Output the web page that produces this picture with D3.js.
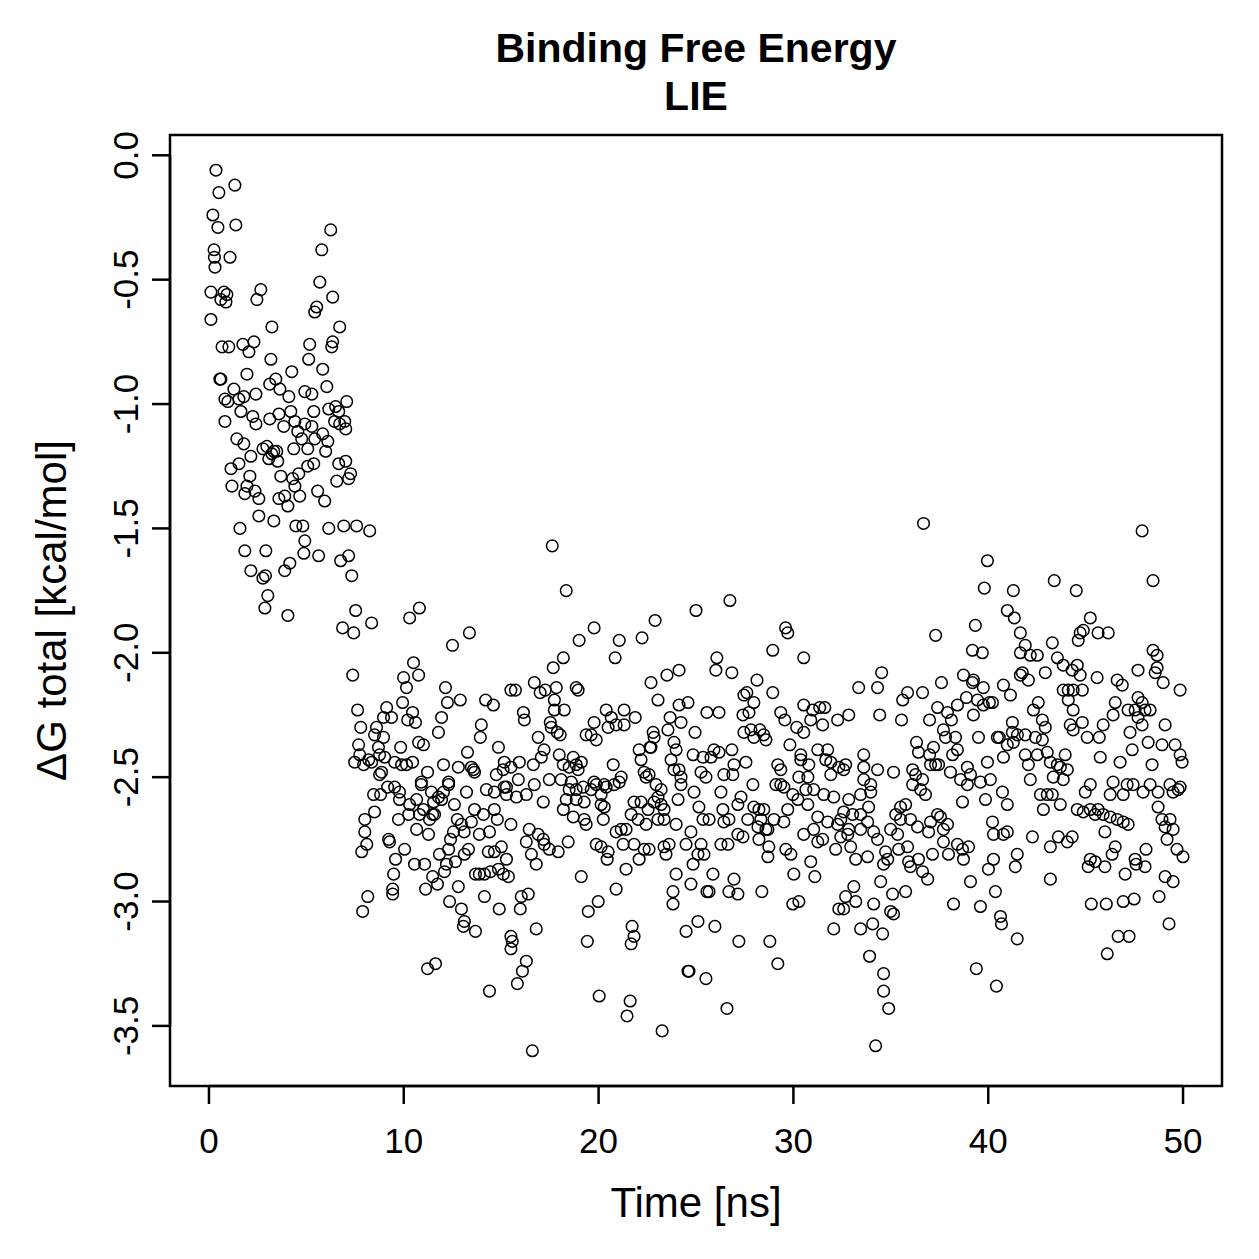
<!DOCTYPE html>
<html>
<head>
<meta charset="utf-8">
<script src="https://cdn.jsdelivr.net/npm/d3@7"></script>
<style>
  body { margin: 0; background: #fff; }
  text { font-family: "Liberation Sans", Arial, Helvetica, sans-serif; }
</style>
</head>
<body>
<svg id="chart"></svg>
<script>
// time [ns], dG total [kcal/mol]

// first ~8.5 ns, before the drop
const earlyPts = [
  [0.36,-0.06],[0.51,-0.15],[1.33,-0.12],[0.2,-0.24],[0.46,-0.29],[1.38,-0.28],[6.25,-0.30],[5.79,-0.38],
  [0.26,-0.38],[0.28,-0.41],[1.08,-0.41],[0.31,-0.45],[5.69,-0.51],[0.1,-0.55],[0.77,-0.55],[0.92,-0.56],
  [0.61,-0.58],[0.87,-0.59],[2.66,-0.54],[2.46,-0.58],[6.35,-0.57],[5.53,-0.61],[5.43,-0.63],[0.1,-0.66],
  [3.23,-0.69],[6.71,-0.69],[0.67,-0.77],[1.02,-0.77],[1.74,-0.76],[2.31,-0.75],[2.05,-0.79],[5.17,-0.76],
  [6.35,-0.75],[6.3,-0.77],[3.18,-0.82],[5.12,-0.82],[5.84,-0.86],[4.25,-0.87],[1.95,-0.88],[0.56,-0.9],
  [0.61,-0.9],[3.43,-0.9],[3.12,-0.92],[3.64,-0.94],[6.05,-0.93],[1.28,-0.94],
  [0.82,-0.98],[0.97,-0.99],[1.54,-0.98],[1.79,-0.97],[2.41,-0.96],[4.1,-0.97],[4.92,-0.95],[5.28,-0.96],
  [7.07,-0.99],[0.82,-1.07],[1.64,-1.03],[2.25,-1.05],[2.41,-1.08],[3.12,-1.06],[3.59,-1.04],[4.2,-1.03],
  [3.84,-1.09],[4.41,-1.07],[4.92,-1.08],[5.38,-1.03],[6.15,-1.02],[6.5,-1.01],[6.66,-1.03],[6.45,-1.07],
  [6.71,-1.08],[6.97,-1.07],[7.02,-1.1],[5.28,-1.09],[4.56,-1.11],[1.43,-1.14],[1.79,-1.16],[2.77,-1.18],
  [2.97,-1.17],[3.33,-1.19],[3.48,-1.19],[4.76,-1.14],[5.07,-1.18],[5.43,-1.14],[5.84,-1.12],[6.1,-1.15],
  [5.99,-1.19],[4.35,-1.18],[2.15,-1.21],[1.54,-1.24],[1.13,-1.26],[3.07,-1.22],[3.53,-1.23],[3.23,-1.2],
  [5.07,-1.25],[5.38,-1.24],[6.66,-1.24],[7.02,-1.23],[7.27,-1.28],[7.17,-1.3],[6.56,-1.31],[4.61,-1.28],
  [4.3,-1.3],[3.69,-1.29],[2.1,-1.29],[1.95,-1.33],[1.18,-1.33],[1.84,-1.36],[2.36,-1.35],[2.56,-1.38],
  [4.41,-1.33],[4.66,-1.37],[3.59,-1.38],[3.89,-1.37],[4.05,-1.41],[5.58,-1.35],[5.94,-1.39],[2.56,-1.45],
  [3.33,-1.47],[1.59,-1.5],[4.46,-1.49],[4.82,-1.49],[6.15,-1.5],[6.92,-1.49],[7.58,-1.49],[8.25,-1.51],
  [4.92,-1.55],[1.84,-1.59],[2.92,-1.59],[4.87,-1.6],[5.63,-1.61],[6.76,-1.63],[7.17,-1.61],[2.15,-1.67],
  [2.77,-1.7],[2.9,-1.69],[3.89,-1.67],[4.15,-1.64],[7.33,-1.69],[3.02,-1.77],[2.87,-1.82],[4.05,-1.85],
  [7.53,-1.83],[6.86,-1.9],[7.43,-1.92],[8.35,-1.88]
];

// ~7.5 to 24 ns
const midPts = [
  [10.3,-1.86],[10.8,-1.82],[12.5,-1.97],[13.37,-1.92],[7.38,-2.09],[10.5,-2.04],[9.99,-2.1],[10.76,-2.09],
  [10.14,-2.14],[12.14,-2.14],[9.94,-2.2],[9.12,-2.22],[7.63,-2.23],[12.24,-2.2],[12.9,-2.19],[14.2,-2.19],
  [14.6,-2.21],[15.5,-2.15],[8.96,-2.26],[9.37,-2.26],[10.2,-2.27],[10.45,-2.24],[10.6,-2.28],[11.94,-2.26],
  [7.79,-2.3],[8.6,-2.3],[8.5,-2.33],[8.96,-2.34],[11.78,-2.32],[13.98,-2.29],[13.93,-2.34],[7.68,-2.37],
  [8.7,-2.38],[8.76,-2.41],[9.84,-2.38],[10.76,-2.36],[11.01,-2.37],[14.86,-2.38],[13.27,-2.4],[7.74,-2.41],
  [7.48,-2.44],[7.94,-2.45],[8.2,-2.43],[8.35,-2.44],[9.02,-2.42],[8.86,-2.48],[8.76,-2.49],[9.53,-2.44],
  [9.89,-2.45],[10.14,-2.45],[10.45,-2.44],[12.04,-2.45],[11.22,-2.48],[12.8,-2.46],[13.47,-2.46],[13.58,-2.47],
  [13.63,-2.48],[14.75,-2.49],[15.16,-2.44],[15.1,-2.47],[15.5,-2.46],[12.3,-2.52],[10.9,-2.52],
  [8.45,-2.57],[8.81,-2.57],[9.17,-2.54],[9.53,-2.54],[9.78,-2.56],[9.78,-2.59],[10.3,-2.61],[10.66,-2.59],
  [10.9,-2.53],[11.42,-2.56],[11.78,-2.58],[12.04,-2.56],[12.3,-2.53],[11.94,-2.59],[11.53,-2.6],[13.22,-2.56],
  [14.24,-2.55],[14.65,-2.56],[15.16,-2.54],[15.27,-2.57],[8.5,-2.64],[8.0,-2.67],[8.0,-2.72],[8.1,-2.77],
  [7.84,-2.8],[9.73,-2.67],[10.25,-2.65],[10.81,-2.65],[11.01,-2.63],[11.32,-2.67],[11.48,-2.65],[11.58,-2.65],
  [10.66,-2.71],[11.27,-2.73],[12.6,-2.61],[12.75,-2.67],[12.96,-2.69],[13.1,-2.72],[12.55,-2.72],[12.4,-2.75],
  [13.63,-2.63],[14.09,-2.65],[13.47,-2.68],[13.88,-2.73],[14.65,-2.63],[14.8,-2.67],[14.4,-2.72],[15.5,-2.69],
  [9.22,-2.75],[9.27,-2.76],[10.04,-2.79],[9.58,-2.83],[9.48,-2.89],[10.55,-2.85],[11.07,-2.85],[11.83,-2.81],
  [12.3,-2.79],[12.19,-2.85],[12.09,-2.88],[12.65,-2.84],[13.11,-2.81],[13.32,-2.79],[11.48,-2.9],[11.73,-2.93],
  [11.12,-2.95],[12.8,-2.94],[13.68,-2.89],[13.88,-2.89],[14.14,-2.89],[14.45,-2.88],[14.86,-2.87],[15.11,-2.89],
  [15.37,-2.9],[14.34,-2.8],[14.65,-2.8],[15.01,-2.78],[15.27,-2.83],[9.43,-2.95],[9.43,-2.97],[8.15,-2.98],
  [7.89,-3.04],[12.35,-3.0],[12.96,-3.03],[13.11,-3.08],[13.06,-3.1],[13.68,-3.12],[14.14,-2.98],[14.9,-3.03],
  [15.5,-3.14],[15.5,-3.19],[11.22,-3.27],[11.63,-3.25],[14.4,-3.36],
  [17.62,-1.57],[18.34,-1.75],[19.77,-1.9],[19.0,-1.95],[18.19,-2.02],[17.67,-2.06],[21.06,-1.95],[20.85,-2.02],
  [22.23,-1.94],[22.9,-1.87],[16.7,-2.12],[15.73,-2.15],[17.0,-2.16],[17.26,-2.15],[17.83,-2.14],[18.85,-2.14],
  [18.95,-2.15],[17.73,-2.19],[17.73,-2.23],[18.24,-2.23],[16.14,-2.24],[16.19,-2.27],[17.52,-2.28],[17.57,-2.3],
  [17.88,-2.32],[18.03,-2.33],[16.9,-2.34],[19.36,-2.33],[19.62,-2.33],[19.88,-2.35],[19.77,-2.28],[20.39,-2.23],
  [20.65,-2.26],[20.49,-2.3],[20.9,-2.29],[21.31,-2.23],[21.31,-2.29],[21.88,-2.26],[22.69,-2.12],[23.05,-2.19],
  [23.51,-2.09],[24.13,-2.07],[22.8,-2.32],[22.85,-2.34],[22.64,-2.38],[23.67,-2.26],[23.56,-2.31],[24.13,-2.21],
  [24.23,-2.28],[23.87,-2.36],[23.98,-2.39],[17.2,-2.39],[17.06,-2.42],[16.65,-2.45],[15.93,-2.44],[17.98,-2.41],
  [18.7,-2.42],[19.11,-2.44],[18.19,-2.45],[18.49,-2.46],[18.95,-2.47],[18.85,-2.45],[20.75,-2.45],[21.16,-2.5],
  [22.08,-2.39],[22.18,-2.43],[22.69,-2.38],[22.34,-2.48],[22.59,-2.49],[23.72,-2.43],[23.87,-2.47],[24.13,-2.47],
  [15.88,-2.51],[16.7,-2.53],[17.47,-2.51],[18.08,-2.51],[18.6,-2.52],[19.77,-2.52],[20.29,-2.53],
  [15.27,-2.54],[15.78,-2.58],[16.29,-2.57],[17.16,-2.6],[18.49,-2.55],[18.85,-2.55],[19.21,-2.54],[19.62,-2.55],
  [19.88,-2.53],[20.13,-2.57],[20.39,-2.54],[20.8,-2.53],[21.06,-2.52],[18.34,-2.59],[18.85,-2.59],[19.26,-2.6],
  [18.19,-2.63],[18.7,-2.66],[19.26,-2.67],[19.36,-2.69],[20.13,-2.61],[20.29,-2.62],[20.24,-2.67],
  [21.82,-2.6],[22.18,-2.6],[22.54,-2.63],[22.85,-2.6],[23.05,-2.58],[23.21,-2.61],[23.36,-2.63],[23.21,-2.55],
  [22.95,-2.53],[22.44,-2.5],[21.67,-2.65],[22.03,-2.67],[22.44,-2.69],[23.05,-2.67],[23.36,-2.67],[23.98,-2.69],
  [24.08,-2.59],[24.23,-2.53],[16.44,-2.71],[16.29,-2.76],[16.9,-2.73],[17.16,-2.75],[17.47,-2.79],[17.93,-2.8],
  [18.44,-2.76],[16.55,-2.81],[16.8,-2.85],[17.21,-2.77],[19.88,-2.77],[20.13,-2.78],[20.49,-2.8],[20.44,-2.83],
  [20.9,-2.72],[21.16,-2.71],[21.41,-2.71],[21.26,-2.77],[21.82,-2.77],[22.08,-2.83],[22.34,-2.79],[22.59,-2.79],
  [23.36,-2.78],[23.46,-2.81],[23.62,-2.77],[19.11,-2.9],[20.9,-2.95],[21.41,-2.87],[23.98,-2.89],[23.82,-2.96],
  [23.82,-3.01],[16.39,-2.97],[16.03,-2.98],[15.98,-3.03],[19.98,-3.0],[19.47,-3.04],[16.8,-3.11],[15.57,-3.16],
  [19.42,-3.16],[21.72,-3.1],[21.82,-3.14],[21.67,-3.17],[16.29,-3.24],[16.09,-3.28],[15.83,-3.33],[20.03,-3.38],
  [21.62,-3.4],[21.46,-3.46],[23.26,-3.52],[16.6,-3.6]
];

// ~24 to 50 ns
const latePts = [
  [25.0,-1.83],[26.74,-1.79],[29.6,-1.9],[29.71,-1.92],[28.94,-1.99],[30.53,-2.02],[26.07,-2.02],[26.02,-2.07],
  [26.84,-2.08],[28.13,-2.11],[27.61,-2.16],[27.46,-2.17],[27.97,-2.2],[28.94,-2.16],[24.59,-2.2],[25.56,-2.24],
  [26.18,-2.24],[24.95,-2.32],[27.41,-2.25],[27.72,-2.24],[27.46,-2.32],[27.82,-2.31],[28.28,-2.31],[27.97,-2.34],
  [28.48,-2.33],[28.59,-2.35],[29.35,-2.24],[29.56,-2.27],[30.17,-2.3],[30.53,-2.32],[30.53,-2.21],[30.99,-2.23],
  [31.35,-2.22],[31.61,-2.22],[30.89,-2.27],[31.5,-2.29],[32.27,-2.27],[32.84,-2.25],[24.85,-2.41],[25.36,-2.42],
  [25.77,-2.42],[25.92,-2.39],[26.18,-2.4],[26.84,-2.39],[26.95,-2.45],[27.56,-2.44],[29.82,-2.37],[30.38,-2.41],
  [30.38,-2.43],[31.25,-2.39],[31.76,-2.39],[31.66,-2.43],[31.92,-2.44],[32.33,-2.46],[32.68,-2.45],[32.58,-2.47],
  [24.23,-2.5],[25.26,-2.48],[25.51,-2.5],[26.43,-2.49],[26.89,-2.49],[27.92,-2.53],[29.2,-2.45],[29.35,-2.47],
  [30.28,-2.5],[30.79,-2.45],[30.74,-2.5],[31.92,-2.49],[29.1,-2.53],[29.35,-2.53],
  [29.51,-2.54],[30.64,-2.55],[31.04,-2.55],[29.97,-2.57],[30.23,-2.59],[30.74,-2.61],[31.56,-2.57],[32.07,-2.58],
  [32.84,-2.59],[24.9,-2.56],[25.15,-2.62],[26.28,-2.56],[26.38,-2.63],[27.15,-2.61],[27.31,-2.58],
  [24.74,-2.72],[25.36,-2.67],[25.67,-2.67],[26.43,-2.68],[26.69,-2.67],[27.66,-2.67],[27.97,-2.62],[28.23,-2.63],
  [28.48,-2.63],[28.33,-2.67],[28.18,-2.7],[28.59,-2.71],[29.0,-2.67],[29.51,-2.68],[29.71,-2.63],[31.25,-2.66],
  [31.76,-2.68],[32.27,-2.69],[32.58,-2.64],[32.43,-2.67],
  [24.49,-2.77],[25.26,-2.77],[26.28,-2.77],[26.64,-2.77],[27.15,-2.73],[27.41,-2.74],[28.23,-2.75],[28.69,-2.71],
  [29.61,-2.79],[29.87,-2.81],[30.53,-2.73],[31.04,-2.71],[31.25,-2.76],[31.5,-2.75],[32.17,-2.79],[32.94,-2.78],
  [32.43,-2.74],[32.79,-2.73],[25.1,-2.81],[25.41,-2.81],[24.85,-2.85],[28.74,-2.78],[28.69,-2.82],[30.89,-2.84],
  [24.74,-2.93],[25.87,-2.89],[25.67,-2.96],[25.56,-2.96],[26.69,-2.96],[26.95,-2.91],[27.15,-2.97],[28.38,-2.96],
  [30.02,-2.89],[31.1,-2.9],[29.97,-3.01],[30.28,-3.0],[32.68,-2.98],[32.33,-3.03],[32.58,-3.03],
  [24.49,-3.12],[25.1,-3.08],[25.97,-3.1],[27.2,-3.16],[28.79,-3.16],[32.07,-3.11],[29.2,-3.25],[24.59,-3.28],
  [24.64,-3.28],[25.51,-3.31],[26.59,-3.43],
  [36.68,-1.48],[39.96,-1.63],[39.8,-1.74],[41.29,-1.75],[40.98,-1.83],[41.34,-1.86],[41.65,-1.92],[37.3,-1.93],
  [39.34,-1.89],[39.19,-1.99],[39.7,-2.0],[34.53,-2.08],[33.35,-2.14],[34.32,-2.14],[35.86,-2.16],[35.61,-2.19],
  [36.63,-2.16],[37.6,-2.12],[38.73,-2.09],[39.24,-2.11],[39.19,-2.12],[39.75,-2.14],[40.78,-2.13],[41.14,-2.17],
  [34.43,-2.25],[35.55,-2.27],[36.99,-2.27],[37.4,-2.22],[37.91,-2.24],[38.11,-2.27],[38.42,-2.21],[38.88,-2.18],
  [39.45,-2.19],[39.75,-2.21],[40.06,-2.2],[40.22,-2.2],[39.24,-2.25],[41.24,-2.28],[41.24,-2.32],[37.7,-2.31],
  [37.81,-2.34],[38.32,-2.34],[38.42,-2.39],[38.17,-2.41],[37.19,-2.38],[36.32,-2.36],[36.42,-2.4],[36.99,-2.41],
  [39.5,-2.34],[40.47,-2.34],[40.57,-2.34],[40.98,-2.37],[41.29,-2.36],[40.78,-2.42],[37.04,-2.45],[37.3,-2.45],
  [37.45,-2.45],[38.06,-2.48],[38.93,-2.46],[39.96,-2.44],[33.61,-2.41],[33.61,-2.46],[34.32,-2.47],[35.14,-2.48],
  [36.12,-2.47],[36.27,-2.49],[36.63,-2.51],[38.58,-2.51],[39.09,-2.49],[40.11,-2.51],
  [33.61,-2.51],[33.97,-2.53],[33.97,-2.56],[33.45,-2.57],[36.12,-2.53],[36.53,-2.55],[36.78,-2.57],[38.93,-2.53],
  [39.6,-2.52],[40.73,-2.56],[40.98,-2.61],[39.86,-2.59],[38.68,-2.6],
  [33.04,-2.65],[33.45,-2.65],[33.81,-2.68],[33.86,-2.62],[32.84,-2.71],[33.45,-2.71],[34.12,-2.72],[34.32,-2.75],
  [34.99,-2.71],[35.25,-2.65],[35.5,-2.62],[35.76,-2.61],[35.5,-2.67],[36.01,-2.67],[36.37,-2.7],[37.04,-2.68],
  [37.4,-2.65],[37.55,-2.66],[37.91,-2.69],[37.7,-2.71],[36.94,-2.72],[35.35,-2.73],
  [33.2,-2.83],[33.81,-2.82],[34.73,-2.8],[34.84,-2.83],[34.63,-2.85],[35.4,-2.79],[35.86,-2.78],[35.91,-2.84],
  [36.01,-2.86],[36.42,-2.83],[36.63,-2.88],[36.89,-2.91],[37.14,-2.81],[37.7,-2.76],[37.96,-2.81],[38.42,-2.77],
  [38.68,-2.79],[38.99,-2.78],[38.73,-2.83],[40.22,-2.68],[40.27,-2.73],[40.78,-2.73],[40.98,-2.72],[40.27,-2.83],
  [40.01,-2.87],[41.49,-2.81],[41.39,-2.86],[39.09,-2.92],[40.37,-2.96],[39.6,-3.02],[38.22,-3.01],[35.76,-2.96],
  [35.09,-2.97],[34.48,-2.92],[33.1,-2.94],[33.2,-3.0],[34.12,-3.01],[33.45,-3.11],[34.07,-3.09],[34.58,-3.13],
  [34.99,-3.04],[35.14,-3.05],[40.63,-3.06],[40.68,-3.09],[41.49,-3.15],[33.91,-3.22],[34.63,-3.29],[34.63,-3.36],
  [34.89,-3.43],[34.22,-3.58],[39.39,-3.27],[40.42,-3.34],
  [47.9,-1.51],[48.46,-1.71],[43.39,-1.71],[44.52,-1.75],[45.24,-1.86],[44.88,-1.91],[44.72,-1.92],[44.62,-1.95],
  [45.64,-1.92],[46.16,-1.92],[43.29,-1.96],[43.55,-2.02],[43.85,-2.05],[44.57,-2.05],[44.31,-2.07],[44.72,-2.09],
  [41.65,-2.0],[41.9,-1.97],[42.16,-2.01],[42.52,-2.01],[41.75,-2.08],[41.65,-2.09],[42.06,-2.11],[42.93,-2.08],
  [45.59,-2.1],[46.62,-2.11],[46.88,-2.13],[47.69,-2.07],[48.46,-1.99],[48.67,-2.01],[48.67,-2.06],[48.57,-2.08],
  [48.98,-2.12],[49.85,-2.15],[43.85,-2.15],[44.11,-2.15],[44.36,-2.15],[44.83,-2.15],[44.11,-2.19],
  [42.57,-2.2],[42.32,-2.23],[42.78,-2.27],[42.93,-2.3],[41.9,-2.33],[41.5,-2.33],[42.42,-2.34],[42.78,-2.35],
  [44.21,-2.29],[44.36,-2.31],[44.83,-2.28],[44.36,-2.23],[45.08,-2.34],[45.7,-2.34],[45.9,-2.29],[46.41,-2.25],
  [46.52,-2.2],[47.18,-2.23],[47.54,-2.23],[47.69,-2.18],[47.9,-2.2],[48.05,-2.23],[48.31,-2.23],[47.69,-2.26],
  [47.9,-2.29],[47.28,-2.32],[49.08,-2.29],[48.21,-2.36],[48.92,-2.37],[49.59,-2.37],[49.85,-2.41],[49.95,-2.44],
  [48.41,-2.45],[47.39,-2.39],[46.77,-2.44],[45.75,-2.42],[41.9,-2.41],[42.06,-2.45],[42.52,-2.41],[43.03,-2.4],
  [43.19,-2.44],[43.55,-2.45],[43.7,-2.46],[43.95,-2.41],[44.06,-2.47],[42.16,-2.51],[43.34,-2.5],[43.85,-2.51],
  [44.98,-2.56],[45.24,-2.53],[46.26,-2.57],[46.41,-2.52],[46.93,-2.57],[47.13,-2.53],[47.44,-2.53],[47.95,-2.56],
  [48.31,-2.53],[48.72,-2.56],[49.33,-2.53],[49.49,-2.56],[49.75,-2.55],[49.85,-2.54],
  [42.68,-2.57],[43.03,-2.57],[43.29,-2.57],[43.7,-2.61],[42.83,-2.63],[44.57,-2.63],[44.88,-2.64],[45.24,-2.63],
  [45.49,-2.65],[45.64,-2.63],[45.9,-2.65],[46.26,-2.66],[46.62,-2.67],[46.93,-2.68],[47.18,-2.69],[48.72,-2.62],
  [48.92,-2.67],[49.33,-2.67],[49.08,-2.7],[49.49,-2.71],[49.18,-2.75],
  [42.27,-2.74],[43.19,-2.78],[43.6,-2.74],[44.06,-2.76],[44.31,-2.74],[45.99,-2.72],
  [43.19,-2.91],[45.24,-2.83],[45.49,-2.84],[45.13,-2.86],[45.99,-2.86],[46.36,-2.81],[46.52,-2.78],[47.03,-2.89],
  [47.54,-2.83],[47.59,-2.85],[48.05,-2.86],[48.1,-2.79],[49.08,-2.9],[49.49,-2.92],[49.69,-2.79],[50.0,-2.82],
  [45.29,-3.01],[46.06,-3.01],[46.93,-3.0],[47.49,-2.99],[48.77,-2.98],[49.28,-3.09],[46.67,-3.14],[47.23,-3.14],
  [46.11,-3.21]
];

const timeRange = [0, 50];
const xTicks = [0, 10, 20, 30, 40, 50];
const yTicks = [0, -0.5, -1, -1.5, -2, -2.5, -3, -3.5];
const titleLines = ["Binding Free Energy", "LIE"];
const xLabel = "Time [ns]";
const yLabel = "\u0394G total [kcal/mol]";

const W = 1259, H = 1259;
const margin = { top: 135, right: 37, bottom: 173, left: 170 };
const iw = W - margin.left - margin.right;
const ih = H - margin.top - margin.bottom;

const allPts = earlyPts.concat(midPts, latePts);

// R style 4% padding on both axes
const pad = (lo, hi) => { const d = (hi - lo) * 0.04; return [lo - d, hi + d]; };
const yExt = d3.extent(allPts, d => d[1]);

const x = d3.scaleLinear().domain(pad(timeRange[0], timeRange[1])).range([margin.left, margin.left + iw]);
const y = d3.scaleLinear().domain(pad(yExt[0], yExt[1])).range([margin.top + ih, margin.top]);

const svg = d3.select("#chart").attr("width", W).attr("height", H);
svg.append("rect").attr("width", W).attr("height", H).attr("fill", "#fff");

svg.append("g")
    .selectAll("circle")
    .data(allPts)
    .join("circle")
    .attr("cx", d => x(d[0]))
    .attr("cy", d => y(d[1]))
    .attr("r", 5.8)
    .attr("fill", "none")
    .attr("stroke", "#000")
    .attr("stroke-width", 1.5);

// plot box
svg.append("rect")
    .attr("x", margin.left).attr("y", margin.top)
    .attr("width", iw).attr("height", ih)
    .attr("fill", "none").attr("stroke", "#000").attr("stroke-width", 2.5);

// x axis
const xAxis = svg.append("g").attr("transform", `translate(0,${margin.top + ih})`);
xAxis.append("line")
    .attr("x1", x(xTicks[0])).attr("x2", x(xTicks[xTicks.length - 1]))
    .attr("stroke", "#000").attr("stroke-width", 2.5);
xAxis.selectAll(".tk").data(xTicks).join("line")
    .attr("x1", d => x(d)).attr("x2", d => x(d))
    .attr("y1", 0).attr("y2", 18)
    .attr("stroke", "#000").attr("stroke-width", 2.5);
xAxis.selectAll("text").data(xTicks).join("text")
    .attr("x", d => x(d)).attr("y", 67)
    .attr("text-anchor", "middle")
    .attr("font-size", 35)
    .text(d => d);

// y axis
const yAxis = svg.append("g").attr("transform", `translate(${margin.left},0)`);
yAxis.append("line")
    .attr("y1", y(yTicks[0])).attr("y2", y(yTicks[yTicks.length - 1]))
    .attr("stroke", "#000").attr("stroke-width", 2.5);
yAxis.selectAll(".tk").data(yTicks).join("line")
    .attr("y1", d => y(d)).attr("y2", d => y(d))
    .attr("x1", 0).attr("x2", -18)
    .attr("stroke", "#000").attr("stroke-width", 2.5);
yAxis.selectAll("text").data(yTicks).join("text")
    .attr("transform", d => `translate(-32,${y(d)}) rotate(-90)`)
    .attr("text-anchor", "middle")
    .attr("font-size", 35)
    .text(d => d3.format(".1f")(d).replace("\u2212", "-"));

// labels
svg.append("text")
    .attr("x", margin.left + iw / 2).attr("y", 1217)
    .attr("text-anchor", "middle").attr("font-size", 42)
    .text(xLabel);
svg.append("text")
    .attr("transform", `translate(66,${margin.top + ih / 2}) rotate(-90)`)
    .attr("text-anchor", "middle").attr("font-size", 42)
    .text(yLabel);

svg.selectAll(".title").data(titleLines).join("text")
    .attr("class", "title")
    .attr("x", margin.left + iw / 2)
    .attr("y", (d, i) => 62 + i * 48)
    .attr("text-anchor", "middle")
    .attr("font-size", 41).attr("font-weight", "bold")
    .text(d => d);
</script>
</body>
</html>
